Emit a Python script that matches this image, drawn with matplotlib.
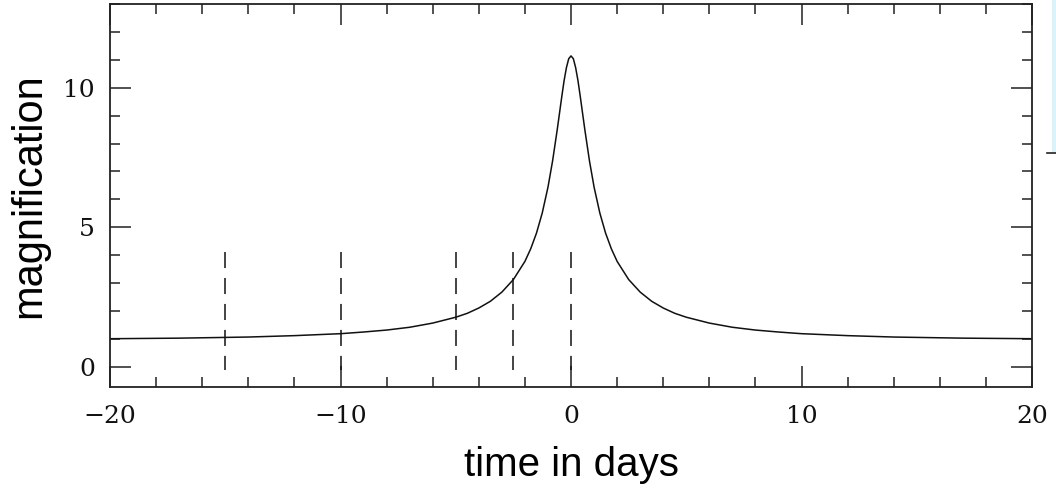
import matplotlib
matplotlib.use('Agg')
import matplotlib.pyplot as plt
import matplotlib.patches as mpatches
from matplotlib.lines import Line2D
from matplotlib.ticker import MultipleLocator

# light curve
t_days = [-20, -17, -14, -12, -10, -9, -8, -7, -6, -5, -4.5, -4, -3.5, -3, -2.5,
          -2, -1.75, -1.5, -1.25, -1, -0.8, -0.6, -0.5, -0.4, -0.3, -0.2, -0.1,
          0,
          0.1, 0.2, 0.3, 0.4, 0.5, 0.6, 0.8, 1, 1.25, 1.5, 1.75, 2,
          2.5, 3, 3.5, 4, 4.5, 5, 6, 7, 8, 9, 10, 12, 14, 17, 20]
magnif = [1.01, 1.03, 1.07, 1.12, 1.19, 1.25, 1.32, 1.42, 1.57, 1.78, 1.92, 2.11, 2.35, 2.68, 3.13,
          3.78, 4.23, 4.79, 5.51, 6.44, 7.38, 8.49, 9.09, 9.69, 10.26, 10.72, 11.04,
          11.14,
          11.04, 10.72, 10.26, 9.69, 9.09, 8.49, 7.38, 6.44, 5.51, 4.79, 4.23, 3.78,
          3.13, 2.68, 2.35, 2.11, 1.92, 1.78, 1.57, 1.42, 1.32, 1.25, 1.19, 1.12, 1.07, 1.03, 1.01]

# dashed markers
mark_t = [-15, -10, -5, -2.5, 0]
mark_top, mark_bottom = 4.1, -0.1

fig = plt.figure(figsize=(10.56, 4.92), dpi=100)
ax = fig.add_axes([0.1042, 0.2134, 0.8731, 0.7785])

ax.plot(t_days, magnif, color='#111111', linewidth=1.1)
for xm in mark_t:
    ax.plot([xm, xm], [mark_top, mark_bottom], color='#111111', linewidth=1.1,
            linestyle=(0, (10.5, 6.5)))

ax.set_xlim(-20, 20)
ax.set_ylim(-0.72, 13.0)

ax.xaxis.set_major_locator(MultipleLocator(10))
ax.xaxis.set_minor_locator(MultipleLocator(2))
ax.yaxis.set_major_locator(MultipleLocator(5))
ax.yaxis.set_minor_locator(MultipleLocator(1))

ax.tick_params(which='both', direction='in', top=True, right=True,
               color='#222222', width=1.1)
ax.tick_params(which='major', length=15)
ax.tick_params(which='minor', length=7.5)
ax.tick_params(axis='x', which='major', pad=13)
ax.tick_params(axis='y', which='major', pad=11)
for lab in ax.get_xticklabels() + ax.get_yticklabels():
    lab.set_fontfamily('DejaVu Serif')
    lab.set_fontsize(18)
    lab.set_color('#111111')

for s in ax.spines.values():
    s.set_linewidth(1.3)
    s.set_color('#222222')

ax.set_xlabel('time in days', fontsize=29, family='Liberation Sans', labelpad=13)
ax.set_ylabel('magnification', fontsize=30, family='Liberation Sans', labelpad=10)

# cropped panel edge at top right
fig.patches.append(mpatches.Rectangle((1052 / 1056, 1 - 152 / 492), 4 / 1056, 152 / 492,
                                      transform=fig.transFigure, facecolor='#dcf2fb',
                                      edgecolor='none'))
fig.lines.append(Line2D([1047 / 1056, 1], [1 - 153 / 492, 1 - 153 / 492],
                        transform=fig.transFigure, color='#222222', linewidth=1.2))

fig.savefig('out.png', dpi=100)
